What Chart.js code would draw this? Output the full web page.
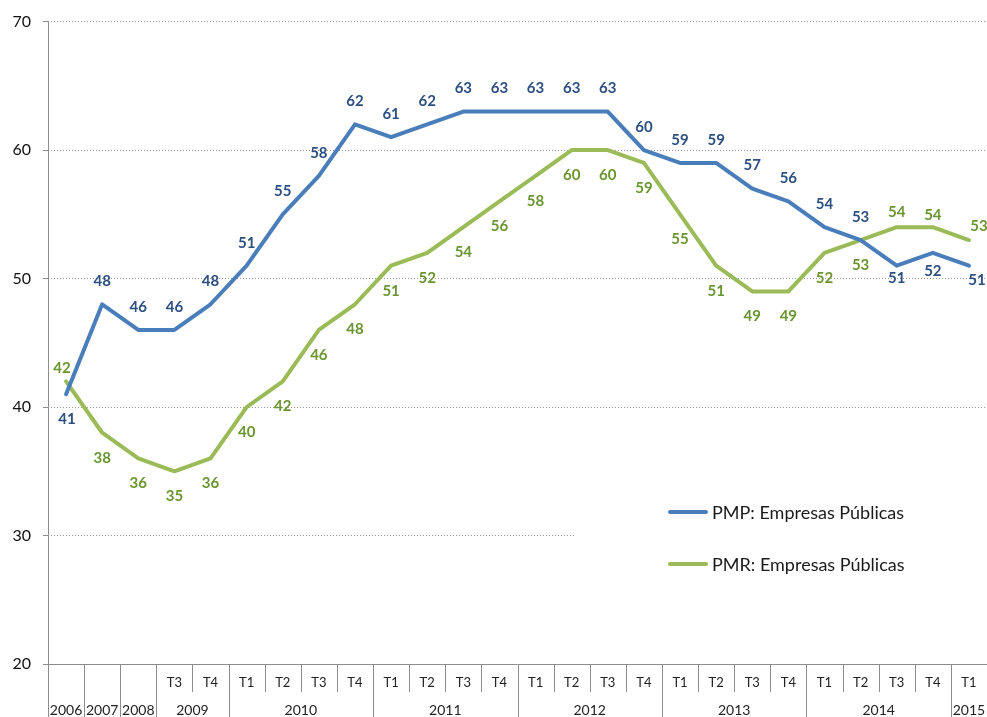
<!DOCTYPE html>
<html>
<head>
<meta charset="utf-8">
<script src="https://cdn.jsdelivr.net/npm/chart.js@4"></script>
<style>
html,body{margin:0;padding:0;background:#fff;overflow:hidden;}
#wrap{width:987px;height:717px;position:relative;}
canvas{display:block;}
</style>
</head>
<body>
<div id="wrap"><canvas id="c" width="987" height="717"></canvas></div>
<script>
// ---- data ----
const categories = ['2006','2007','2008','2009 T3','2009 T4',
  '2010 T1','2010 T2','2010 T3','2010 T4',
  '2011 T1','2011 T2','2011 T3','2011 T4',
  '2012 T1','2012 T2','2012 T3','2012 T4',
  '2013 T1','2013 T2','2013 T3','2013 T4',
  '2014 T1','2014 T2','2014 T3','2014 T4',
  '2015 T1'];
const quarterLabels = ['','','','T3','T4','T1','T2','T3','T4','T1','T2','T3','T4','T1','T2','T3','T4','T1','T2','T3','T4','T1','T2','T3','T4','T1'];
const yearLabels = ['2006','2007','2008','2009','2010','2011','2012','2013','2014','2015'];
const yearSpans = [1,1,1,2,4,4,4,4,4,1];
const pmp = [41,48,46,46,48,51,55,58,62,61,62,63,63,63,63,63,60,59,59,57,56,54,53,51,52,51];
const pmr = [42,38,36,35,36,40,42,46,48,51,52,54,56,58,60,60,59,55,51,49,49,52,53,54,54,53];
const seriesNames = ['PMP: Empresas Públicas','PMR: Empresas Públicas'];
const yTicks = [20,30,40,50,60,70];

// ---- styling ----
const FONT = 'Lato, "Open Sans", "DejaVu Sans", sans-serif';
const BLUE = '#4A7EBB', BLUE_TXT = '#2D4F82';
const GREEN = '#9BBB59', GREEN_TXT = '#6A9530';
const AXIS = '#8c8c8c';
// label placement: [dy, dx] relative to point (negative dy = above)
const placeDefault = {pmp:[-23,0], pmr:[25,0]};
const placeOverride = {
  pmp: {0:[25,1], 23:[12,0], 24:[18,0], 25:[14,8]},
  pmr: {0:[-13,-4], 23:[-15,0], 24:[-12,0], 25:[-14,10]}
};

const labelsPlugin = {
  id:'pointLabels',
  afterDatasetsDraw(chart){
    const ctx = chart.ctx;
    ctx.save();
    ctx.font = 'bold 15px ' + FONT;
    ctx.textAlign = 'center';
    ctx.textBaseline = 'middle';
    chart.data.datasets.forEach((ds, di) => {
      const key = di === 0 ? 'pmp' : 'pmr';
      const meta = chart.getDatasetMeta(di);
      ctx.fillStyle = di === 0 ? BLUE_TXT : GREEN_TXT;
      meta.data.forEach((pt, i) => {
        const p = placeOverride[key][i] || placeDefault[key];
        ctx.fillText(String(ds.data[i]), pt.x + p[1], pt.y + p[0]);
      });
    });
    ctx.restore();
  }
};

const decoPlugin = {
  id:'deco',
  beforeDatasetsDraw(chart){
    // legend background (hides gridline)
    const ctx = chart.ctx;
    ctx.save();
    ctx.fillStyle = '#fff';
    ctx.fillRect(576, 478, 411, 115);
    ctx.restore();
  },
  afterDraw(chart){
    const ctx = chart.ctx;
    const xs = chart.scales.x;
    const area = chart.chartArea;
    const H = chart.height;
    const half = (xs.getPixelForValue(1) - xs.getPixelForValue(0)) / 2;
    ctx.save();
    ctx.setLineDash([]);
    ctx.strokeStyle = AXIS;
    ctx.lineWidth = 1;
    // x axis line
    ctx.beginPath();
    ctx.moveTo(area.left, Math.round(area.bottom) + 0.5);
    ctx.lineTo(area.right, Math.round(area.bottom) + 0.5);
    ctx.stroke();
    // y axis line, full height down through labels
    ctx.beginPath();
    ctx.moveTo(Math.round(area.left) + 0.5, area.top);
    ctx.lineTo(Math.round(area.left) + 0.5, H);
    ctx.stroke();
    // separators
    const yearStarts = new Set();
    let acc = 0;
    yearSpans.forEach(s => { yearStarts.add(acc); acc += s; });
    for (let i = 1; i < categories.length; i++) {
      const x = Math.round(xs.getPixelForValue(i) - half) + 0.5;
      ctx.beginPath();
      ctx.moveTo(x, area.bottom);
      ctx.lineTo(x, yearStarts.has(i) ? H : area.bottom + 28);
      ctx.stroke();
    }
    // quarter labels
    ctx.fillStyle = '#222';
    ctx.textAlign = 'center';
    ctx.textBaseline = 'middle';
    ctx.font = '13px ' + FONT;
    quarterLabels.forEach((q, i) => {
      if (q) ctx.fillText(q, xs.getPixelForValue(i), area.bottom + 19);
    });
    // year labels
    ctx.font = '14px ' + FONT;
    acc = 0;
    yearLabels.forEach((y, k) => {
      const s = yearSpans[k];
      const x0 = xs.getPixelForValue(acc) - half;
      const x1 = xs.getPixelForValue(acc + s - 1) + half;
      ctx.fillText(y, (x0 + x1) / 2, area.bottom + 46);
      acc += s;
    });
    // legend
    ctx.lineCap = 'round';
    ctx.lineWidth = 4;
    const legY = [512, 564];
    [BLUE, GREEN].forEach((c, k) => {
      ctx.strokeStyle = c;
      ctx.beginPath();
      ctx.moveTo(670, legY[k]);
      ctx.lineTo(706, legY[k]);
      ctx.stroke();
    });
    ctx.fillStyle = '#1a1a1a';
    ctx.textAlign = 'left';
    ctx.font = '18px ' + FONT;
    seriesNames.forEach((n, k) => ctx.fillText(n, 712, legY[k] + 1));
    ctx.restore();
  }
};

new Chart(document.getElementById('c'), {
  type:'line',
  data:{
    labels: categories,
    datasets:[
      {label:seriesNames[0], data:pmp, borderColor:BLUE, borderWidth:4, pointRadius:0, tension:0, borderJoinStyle:'round', borderCapStyle:'round', fill:false},
      {label:seriesNames[1], data:pmr, borderColor:GREEN, borderWidth:4, pointRadius:0, tension:0, borderJoinStyle:'round', borderCapStyle:'round', fill:false}
    ]
  },
  options:{
    responsive:false,
    animation:false,
    events:[],
    layout:{padding:{top:20,right:0,left:0,bottom:0}},
    plugins:{legend:{display:false}, tooltip:{enabled:false}},
    scales:{
      x:{
        offset:true,
        grid:{display:false, offset:true},
        border:{display:false},
        ticks:{display:false},
        afterFit(s){ s.height = 53; }
      },
      y:{
        min:20, max:70,
        afterBuildTicks(s){ s.ticks = yTicks.map(v => ({value:v})); },
        grid:{color:'#999', tickBorderDash:[], tickLength:5, tickColor:AXIS, lineWidth:1},
        border:{display:false, dash:[1,2]},
        ticks:{font:{size:16, family:FONT}, color:'#111', padding:12},
        afterFit(s){ s.width = 48; }
      }
    }
  },
  plugins:[decoPlugin, labelsPlugin]
});
</script>
</body>
</html>
